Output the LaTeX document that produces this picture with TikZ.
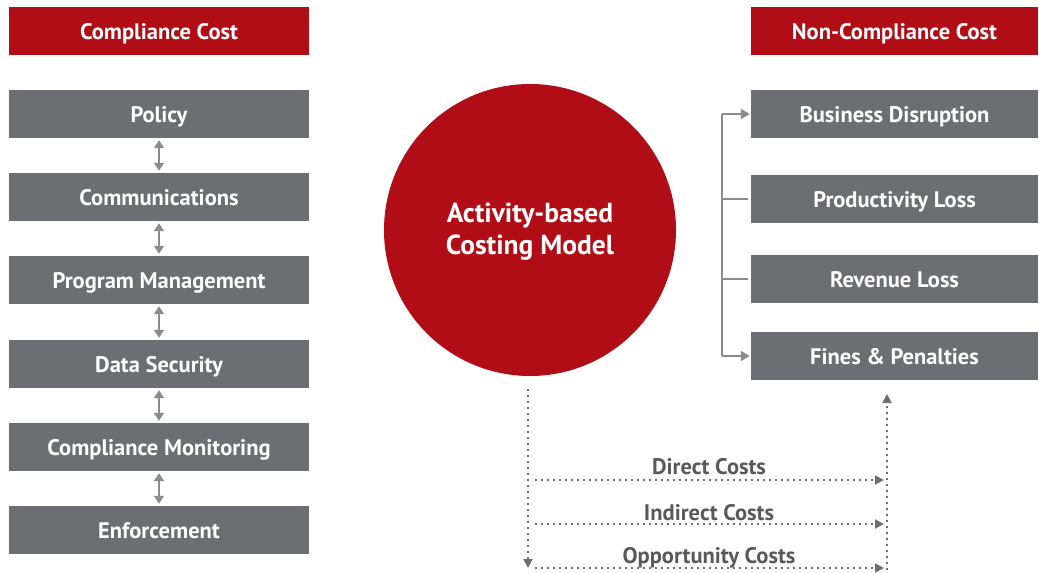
\documentclass[tikz,border=0pt]{standalone}
\usepackage{fontspec}
\setmainfont{PT Sans}
\usetikzlibrary{arrows.meta,positioning,calc}
\definecolor{abcred}{HTML}{B00D16}
\definecolor{abcgray}{HTML}{6D6E71}
\definecolor{abcline}{HTML}{8C8C8E}
\definecolor{abctext}{HTML}{58595B}
\tikzset{
  redbox/.style={fill=abcred, text=white, minimum height=48pt, font=\bfseries\fontsize{22.5}{27}\selectfont, inner sep=0pt, text height=18pt, text depth=2pt},
  graybox/.style={fill=abcgray, text=white, minimum height=48pt, font=\bfseries\fontsize{22.5}{27}\selectfont, inner sep=0pt, text height=18pt, text depth=2pt},
  dotline/.style={abcgray, line width=2pt, dash pattern=on 2pt off 4pt, -{Triangle[width=9pt,length=9pt]}},
  costlabel/.style={text=abctext, font=\bfseries\fontsize{22.5}{27}\selectfont}
}
\begin{document}
\begin{tikzpicture}[x=1pt, y=-1pt]
    \useasboundingbox (0,0) rectangle (1039,573);

    % left column
    \node[redbox, minimum width=300pt] (ccost) at (159,31) {Compliance Cost};
    \foreach \name/\y/\txt in {pol/114/Policy, com/197/Communications, prg/280/Program Management,
        sec/364/Data Security, mon/447/Compliance Monitoring, enf/530/Enforcement}
        \node[graybox, minimum width=300pt] (\name) at (159,\y) {\txt};

    \foreach \a/\b in {pol/com, com/prg, prg/sec, sec/mon, mon/enf}
        \draw[abcline, line width=2pt, {Triangle[width=10pt,length=8pt]}-{Triangle[width=10pt,length=8pt]}]
            ($(\a.south)+(0,2)$) -- ($(\b.north)+(0,-2)$);

    % circle
    \node[circle, fill=abcred, minimum size=292pt] (abc) at (530,230) {};
    \node[text=white, align=center, font=\bfseries\fontsize{27.5}{32}\selectfont]
        (abctxt) at (530,232) {Activity-based\\Costing Model};

    % right column
    \node[redbox, minimum width=287pt] (ncost) at (894.5,31) {Non-Compliance Cost};
    \foreach \name/\y/\txt in {bus/114/Business Disruption, pro/199/Productivity Loss,
        rev/279/Revenue Loss, fin/356/Fines \& Penalties}
        \node[graybox, minimum width=287pt] (\name) at (894.5,\y) {\txt};

    \coordinate (btop) at (722,114);
    \coordinate (bbot) at (722,356);
    \draw[abcline, line width=2pt] (btop) -- (bbot);
    \draw[abcline, line width=2pt, -{Triangle[width=10pt,length=9pt]}] (btop) -- ($(bus.west)+(-1,0)$);
    \draw[abcline, line width=2pt, -{Triangle[width=10pt,length=9pt]}] (bbot) -- ($(fin.west)+(-1,0)$);
    \draw[abcline, line width=2pt] (722,199) -- ($(pro.west)+(-3,0)$);
    \draw[abcline, line width=2pt] (722,279) -- ($(rev.west)+(-3,0)$);

    % cost flows
    \coordinate (ltop) at (528,389);
    \coordinate (lbot) at (528,568);
    \coordinate (rtop) at (887,394);
    \coordinate (rbot) at (887,570);
    \draw[dotline] (ltop) -- (lbot);
    \draw[dotline] (rbot) -- (rtop);
    \foreach \y/\dy/\txt in {480/13/Direct Costs, 524/11.5/Indirect Costs, 568/10.5/Opportunity Costs} {
        \draw[dotline] (535,\y) -- (884,\y);
        \node[costlabel] at (709,\y-\dy) {\txt};
    }

\end{tikzpicture}
\end{document}
